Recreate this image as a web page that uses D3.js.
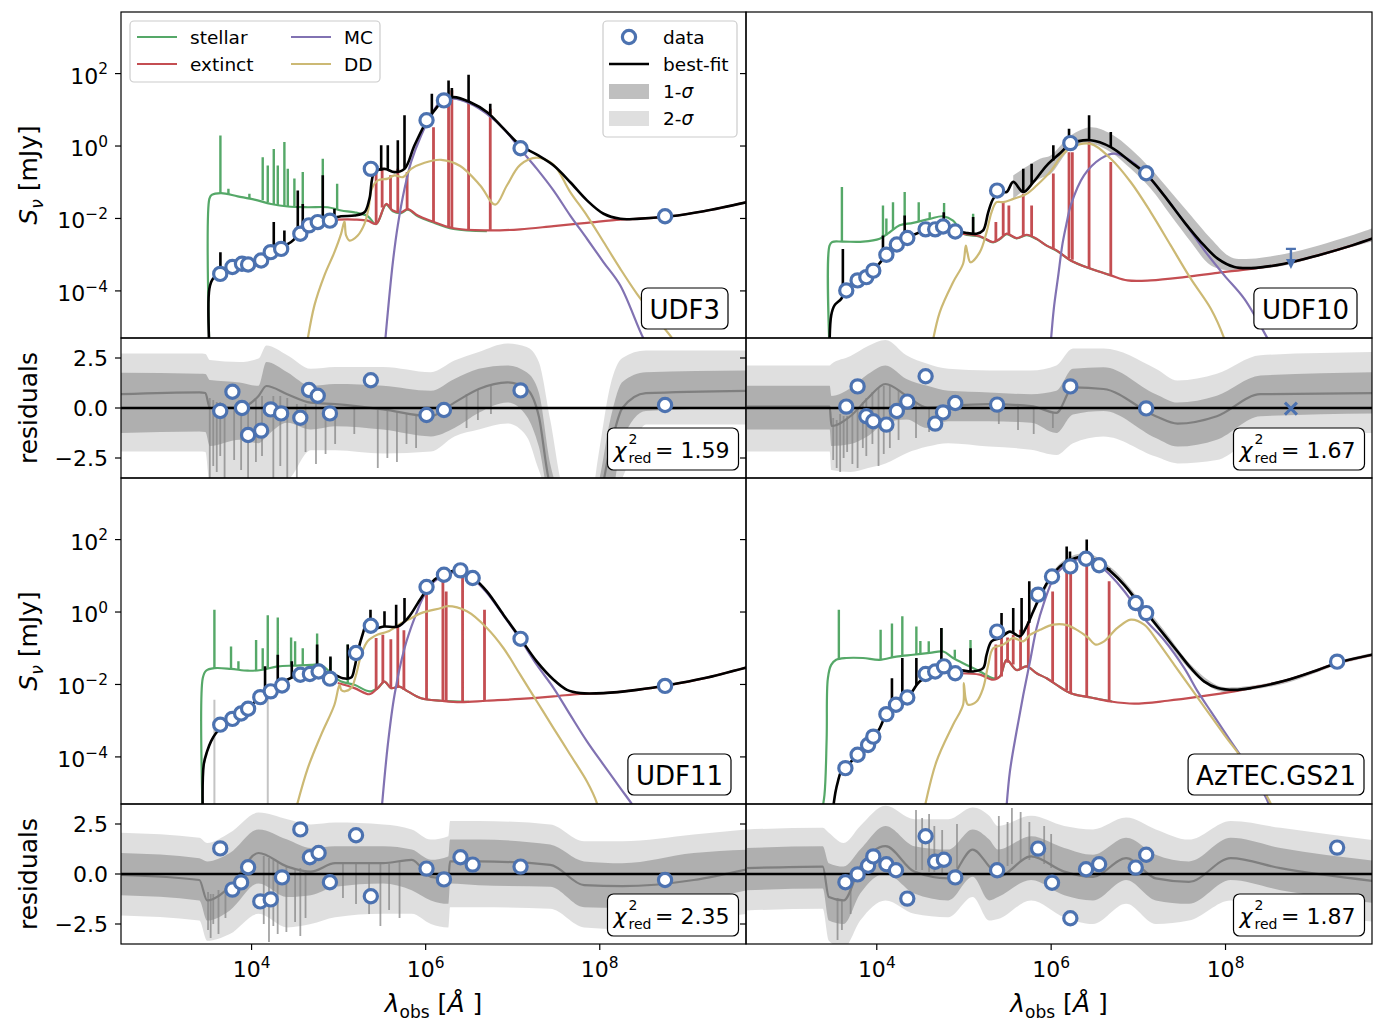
<!DOCTYPE html>
<html>
<head>
<meta charset="utf-8">
<script src="https://cdn.jsdelivr.net/npm/d3@7"></script>
<style>
  body { margin: 0; background: #fff; }
  text { font-family: "DejaVu Sans", sans-serif; fill: #000; }
</style>
</head>
<body>
<svg id="chart" width="1381" height="1021"></svg>
<script>
// ---------------------------------------------------------------
// SED fits of four sources. Wavelengths and flux densities are
// stored as log10 values: [log10 lambda/Angstrom, log10 S_nu/mJy].
// Line arrays hold [log10 lambda, log10 base, log10 peak].
// Residual bands hold [log10 lambda, -2sig, -1sig, median, +1sig, +2sig].
// ---------------------------------------------------------------

const logLamDomain = [2.5, 9.68];
const logFluxDomain = [-5.3, 3.7];
const residDomain = [-3.5, 3.5];
const fluxTicks = [-4, -2, 0, 2];
const residTicks = [-2.5, 0, 2.5];
const lamTicks = [4, 6, 8];

const componentNames = ["stellar", "extinct", "MC", "DD"];
const componentColors = ["#55a868", "#c44e52", "#8172b2", "#ccb974"];
const dataColor = "#4c72b0";

// ---------------- UDF3 ----------------
const udf3Stellar = [[3.515,-5.6],[3.515,-1.46],[3.542,-1.35],[3.649,-1.30],[3.841,-1.39],[4.033,-1.48],[4.224,-1.60],[4.416,-1.67],[4.646,-1.69],[4.875,-1.69],[5.029,-1.78],[5.182,-1.83],[5.335,-1.94],[5.431,-2.16],[5.546,-1.62],[5.623,-1.80],[5.718,-1.85],[5.795,-1.76],[5.910,-1.94],[6.063,-2.09],[6.320,-2.29],[6.703,-2.35]];
const udf3StellarLines = [[3.642,-1.30,0.29],[3.734,-1.33,-1.18],[3.975,-1.44,-1.32],[4.128,-1.50,-0.31],[4.186,-1.55,-0.54],[4.255,-1.61,-0.08],[4.301,-1.63,-0.54],[4.377,-1.66,0.11],[4.416,-1.67,-0.63],[4.492,-1.68,-0.90],[4.588,-1.69,-0.72],[4.818,-1.69,-0.35],[4.983,-1.76,-1.04]];
const udf3Extinct = [[4.990,-2.03],[5.182,-2.03],[5.335,-2.06],[5.431,-2.15],[5.546,-1.60],[5.623,-1.78],[5.718,-1.83],[5.795,-1.74],[5.910,-1.92],[6.063,-2.07],[6.320,-2.27],[6.703,-2.33],[7.086,-2.30],[7.470,-2.21],[7.853,-2.12],[8.236,-2.03],[8.427,-2.01],[8.810,-1.94],[9.194,-1.80],[9.730,-1.53]];
const udf3ExtinctLines = [[5.431,-2.15,-0.72],[5.500,-1.70,-0.60],[5.596,-1.72,-0.81],[5.680,-1.81,-0.63],[5.787,-1.74,-0.72],[6.090,-2.10,0.52],[6.263,-2.25,1.21],[6.301,-2.26,1.54],[6.493,-2.30,1.26],[6.742,-2.33,1.03]];
const udf3MC = [[5.527,-5.6],[5.565,-4.59],[5.623,-3.21],[5.680,-2.19],[5.757,-1.18],[5.833,-0.44],[5.948,0.29],[6.063,0.85],[6.167,1.21],[6.320,1.31],[6.512,1.17],[6.703,0.89],[6.895,0.48],[7.086,-0.08],[7.278,-0.63],[7.470,-1.23],[7.661,-1.92],[7.853,-2.56],[8.044,-3.21],[8.236,-3.85],[8.504,-5.32],[8.581,-5.6]];
const udf3DD = [[4.626,-5.6],[4.722,-4.40],[4.837,-3.57],[4.952,-2.93],[5.029,-2.42],[5.067,-2.08],[5.086,-2.47],[5.125,-2.61],[5.220,-2.47],[5.297,-2.15],[5.343,-1.73],[5.381,-1.18],[5.450,-0.95],[5.565,-0.90],[5.642,-0.81],[5.738,-0.86],[5.833,-0.63],[5.987,-0.46],[6.178,-0.38],[6.397,-0.55],[6.627,-1.09],[6.799,-1.62],[6.933,-1.09],[7.086,-0.52],[7.278,-0.32],[7.470,-0.52],[7.661,-1.27],[7.853,-1.92],[8.044,-2.65],[8.236,-3.39],[8.427,-4.08],[8.619,-4.68],[8.849,-5.37],[8.887,-5.6]];
const udf3Fit = [[3.515,-5.6],[3.515,-3.94],[3.554,-3.67],[3.611,-3.57],[3.726,-3.34],[3.879,-3.23],[4.033,-3.16],[4.186,-2.98],[4.339,-2.79],[4.454,-2.65],[4.569,-2.38],[4.722,-2.15],[4.875,-2.03],[5.029,-1.94],[5.182,-1.92],[5.297,-1.83],[5.354,-1.46],[5.412,-0.72],[5.527,-0.63],[5.642,-0.72],[5.757,-0.63],[5.872,0.02],[6.025,0.75],[6.090,0.95],[6.205,1.26],[6.320,1.35],[6.512,1.21],[6.703,0.94],[6.895,0.48],[7.086,0.02],[7.278,-0.24],[7.470,-0.54],[7.661,-1.00],[7.853,-1.50],[8.044,-1.87],[8.236,-2.01],[8.427,-2.01],[8.810,-1.94],[9.194,-1.80],[9.730,-1.53]];
const udf3FitLines = [[3.642,-3.55,-2.93],[4.255,-2.90,-2.10],[4.377,-2.80,-2.33],[4.531,-2.45,-1.23],[4.588,-2.35,-1.60],[4.818,-2.08,-0.81],[4.952,-1.99,-1.73],[5.489,-0.68,0.02],[5.565,-0.65,0.02],[5.680,-0.70,0.16],[5.757,-0.63,0.85],[6.071,0.85,1.44],[6.263,1.30,1.81],[6.301,1.33,1.60],[6.493,1.22,1.97],[6.742,0.88,1.17]];
const udf3Lam = [3.64,3.78,3.89,3.96,4.11,4.22,4.34,4.56,4.66,4.76,4.90,5.37,6.01,6.21,7.09,8.75];
const udf3Flux = [-3.53,-3.34,-3.25,-3.27,-3.16,-2.93,-2.84,-2.42,-2.19,-2.10,-2.06,-0.63,0.71,1.26,-0.06,-1.94];
const udf3Resid = [-0.15,0.81,0.00,-1.35,-1.13,-0.07,-0.27,-0.49,0.90,0.61,-0.27,1.39,-0.35,-0.10,0.88,0.15];
const udf3ResBand = [[2.50,-2.18,-1.25,0.69,1.76,2.72],[3.40,-2.18,-1.17,0.78,1.71,2.72],[3.47,-2.20,-1.20,0.75,1.70,2.70],[3.52,-3.80,-1.90,0.00,1.40,2.40],[3.86,-3.80,-1.59,0.02,1.28,2.30],[4.08,-3.80,-1.76,0.60,1.11,2.47],[4.17,-3.80,-1.42,1.10,2.30,3.13],[4.41,-3.60,-0.74,0.69,1.79,2.64],[4.68,-2.11,-1.08,0.27,1.11,1.96],[4.96,-2.11,-0.91,0.19,1.20,2.05],[5.51,-2.28,-1.08,-0.07,1.11,2.05],[6.06,-2.18,-1.42,-0.41,0.86,1.79],[6.33,-1.42,-1.00,0.27,1.45,2.37],[6.61,-1.08,-0.24,0.95,1.96,2.80],[6.94,-0.78,0.27,1.28,2.13,3.22],[7.16,-1.42,-0.41,0.95,1.79,3.05],[7.30,-3.10,-1.93,-0.41,0.78,2.30],[7.43,-4.50,-4.50,-3.80,-2.77,-0.57],[7.60,-4.50,-4.50,-4.50,-4.50,-4.20],[7.90,-4.50,-4.50,-4.50,-4.50,-4.50],[7.98,-4.50,-4.50,-4.50,-3.80,-2.50],[8.12,-4.50,-4.50,-2.00,-0.60,1.10],[8.26,-3.50,-1.60,0.00,1.30,2.50],[8.53,-0.83,-0.15,0.74,1.79,2.87],[9.70,-0.83,0.02,0.86,1.88,2.87]];
const udf3ResLines = [[3.52,0.5,-3.8],[3.56,0.4,-2.9],[3.60,0.3,-3.2],[3.64,0.3,-2.4],[3.69,0.2,-3.6],[3.80,0.0,-2.6],[3.88,0.0,-3.1],[3.96,0.1,-3.8],[4.05,0.4,-2.7],[4.12,0.6,-2.4],[4.25,0.6,-3.5],[4.33,0.6,-2.9],[4.41,0.5,-3.8],[4.52,0.2,-3.8],[4.62,0.2,-2.2],[4.74,0.2,-2.8],[4.85,0.1,-2.3],[4.96,0.1,-1.8],[5.18,0.0,-1.3],[5.45,-0.1,-3.0],[5.56,-0.1,-2.5],[5.67,-0.2,-2.7],[5.78,-0.3,-1.8],[5.89,-0.3,-2.0],[6.47,0.7,-1.0],[6.60,0.9,-0.6],[6.75,1.1,-0.3]];

// ---------------- UDF10 ----------------
const udf10Stellar = [[3.458,-5.6],[3.458,-2.75],[3.489,-2.65],[3.611,-2.64],[3.841,-2.64],[4.033,-2.56],[4.148,-2.38],[4.262,-2.19],[4.416,-2.12],[4.607,-2.01],[4.761,-1.94],[4.875,-2.06],[4.990,-2.42],[5.182,-2.50],[5.335,-2.66],[5.412,-2.57],[5.489,-2.43],[5.603,-2.55],[5.718,-2.46],[5.833,-2.57],[5.948,-2.75],[6.063,-2.89],[6.224,-3.16],[6.454,-3.39],[6.684,-3.57]];
const udf10StellarLines = [[3.600,-2.63,-1.13],[4.071,-2.52,-1.64],[4.110,-2.46,-2.00],[4.186,-2.30,-1.55],[4.320,-2.16,-1.27],[4.481,-2.08,-1.55],[4.607,-2.01,-1.83],[4.772,-1.94,-1.57],[5.105,-2.46,-1.87]];
const udf10Extinct = [[4.952,-2.42],[5.182,-2.49],[5.335,-2.65],[5.412,-2.56],[5.489,-2.42],[5.603,-2.54],[5.718,-2.45],[5.833,-2.56],[5.948,-2.75],[6.063,-2.88],[6.224,-3.16],[6.454,-3.39],[6.684,-3.57],[6.875,-3.71],[7.143,-3.71],[7.527,-3.62],[7.910,-3.50],[8.293,-3.39],[8.676,-3.25],[9.059,-3.02],[9.443,-2.75],[9.700,-2.54]];
const udf10ExtinctLines = [[5.366,-2.62,-2.10],[5.450,-2.46,-1.55],[5.515,-2.45,-1.64],[5.680,-2.48,-1.32],[5.776,-2.50,-1.64],[6.025,-2.85,-0.76],[6.205,-3.10,-0.17],[6.243,-3.14,-0.17],[6.435,-3.37,0.11],[6.684,-3.57,-0.44]];
const udf10MC = [[5.990,-5.6],[6.030,-4.50],[6.080,-3.60],[6.130,-2.70],[6.180,-2.10],[6.224,-1.64],[6.377,-0.81],[6.569,-0.35],[6.722,-0.21],[6.875,-0.35],[7.067,-0.72],[7.297,-1.37],[7.527,-2.10],[7.757,-2.88],[7.986,-3.57],[8.216,-4.22],[8.484,-5.32],[8.550,-5.6]];
const udf10DD = [[4.626,-5.6],[4.722,-4.59],[4.875,-3.76],[4.990,-3.25],[5.021,-2.75],[5.040,-2.95],[5.075,-3.21],[5.182,-2.93],[5.259,-2.38],[5.316,-1.83],[5.374,-1.55],[5.450,-1.55],[5.565,-1.46],[5.718,-1.32],[5.833,-1.09],[5.994,-0.70],[6.109,-0.30],[6.224,-0.05],[6.454,0.06],[6.684,-0.35],[6.914,-1.00],[7.143,-1.83],[7.373,-2.75],[7.603,-3.67],[7.833,-4.50],[7.986,-5.32],[8.020,-5.6]];
const udf10Fit = [[3.458,-5.6],[3.477,-4.68],[3.515,-4.40],[3.592,-4.22],[3.649,-3.99],[3.803,-3.71],[3.956,-3.44],[4.109,-3.02],[4.224,-2.75],[4.339,-2.56],[4.492,-2.38],[4.646,-2.29],[4.799,-2.24],[4.914,-2.33],[5.029,-2.40],[5.144,-2.42],[5.220,-2.33],[5.278,-1.83],[5.335,-1.46],[5.412,-1.27],[5.489,-1.27],[5.565,-0.99],[5.680,-1.27],[5.795,-1.00],[5.948,-0.54],[6.102,-0.20],[6.224,0.06],[6.454,0.16],[6.684,-0.03],[6.914,-0.44],[7.105,-0.81],[7.297,-1.37],[7.527,-2.10],[7.718,-2.65],[7.910,-3.11],[8.101,-3.34],[8.293,-3.37],[8.676,-3.25],[9.059,-3.02],[9.443,-2.75],[9.700,-2.54]];
const udf10FitLines = [[3.611,-4.15,-2.84],[4.071,-3.10,-2.47],[4.320,-2.60,-1.92],[4.768,-2.24,-1.83],[5.105,-2.42,-1.96],[5.680,-1.25,-0.63],[5.776,-1.05,-0.49],[6.025,-0.40,0.02],[6.205,0.04,0.48],[6.435,0.15,0.85],[6.684,-0.03,0.39]];
const udf10Band = [[5.565,-1.46,-0.81],[5.872,-0.90,-0.35],[5.994,-0.77,-0.26],[6.224,-0.08,0.29],[6.454,0.06,0.52],[6.684,-0.17,0.34],[6.914,-0.63,-0.08],[7.143,-1.18,-0.63],[7.373,-1.92,-1.27],[7.603,-2.65,-1.92],[7.833,-3.30,-2.56],[8.063,-3.44,-3.07],[8.293,-3.41,-3.11],[8.676,-3.30,-2.98],[9.059,-3.06,-2.75],[9.443,-2.79,-2.47],[9.700,-2.62,-2.26]];
const udf10Lam = [3.65,3.78,3.88,3.96,4.11,4.23,4.35,4.56,4.67,4.76,4.90,5.38,6.22,7.09];
const udf10Flux = [-3.99,-3.71,-3.62,-3.44,-3.00,-2.72,-2.54,-2.30,-2.30,-2.22,-2.36,-1.23,0.08,-0.75];
const udf10Resid = [0.07,1.08,-0.41,-0.66,-0.83,-0.15,0.32,1.59,-0.78,-0.22,0.25,0.17,1.08,-0.02];
const udf10LimitLam = [8.75];
const udf10LimitFlux = [-2.84];
const udf10LimitResid = [-0.03];
const udf10ResBand = [[2.50,-2.18,-1.08,0.07,1.11,2.13],[3.46,-2.18,-1.08,0.07,1.11,2.13],[3.48,-3.10,-1.90,-0.90,0.60,2.20],[3.70,-3.20,-1.80,-0.40,1.00,2.60],[3.90,-3.00,-1.40,0.50,1.70,3.10],[4.10,-2.77,-0.74,1.20,2.13,3.40],[4.34,-2.26,-0.57,0.61,1.45,2.64],[4.58,-1.93,-1.00,0.02,1.11,2.21],[4.82,-1.76,-0.66,0.10,0.86,1.96],[5.29,-1.93,-0.66,0.19,0.78,1.88],[5.77,-2.09,-0.74,0.10,0.69,1.88],[6.06,-2.35,-1.25,-0.24,0.86,2.13],[6.25,-1.76,-0.32,1.03,1.96,2.97],[6.60,-1.42,-0.15,0.95,2.04,2.97],[7.20,-2.43,-1.50,-0.41,0.69,1.96],[7.45,-2.77,-1.93,-0.78,0.27,1.37],[7.90,-2.60,-1.59,-0.41,0.61,1.71],[8.40,-1.42,-0.41,0.69,1.62,2.64],[9.70,-1.25,-0.27,0.74,1.79,2.80]];
const udf10ResLines = [[3.50,-0.5,-2.6],[3.54,-0.6,-3.0],[3.58,-0.3,-3.2],[3.62,-0.4,-2.5],[3.66,-0.4,-2.2],[3.72,-0.2,-2.8],[3.78,0.0,-3.0],[3.84,0.3,-2.0],[3.88,0.5,-2.4],[3.95,0.8,-1.8],[4.02,1.0,-2.9],[4.08,1.1,-2.3],[4.15,1.1,-2.0],[4.25,0.9,-1.6],[4.45,0.3,-1.5],[4.60,0.0,-1.2],[5.40,0.1,-0.8],[5.62,0.1,-1.1],[5.80,0.1,-1.3],[6.02,-0.2,-1.0]];

// ---------------- UDF11 ----------------
const udf11Stellar = [[3.439,-5.6],[3.439,-1.83],[3.477,-1.62],[3.573,-1.55],[3.764,-1.57],[3.956,-1.62],[4.109,-1.60],[4.301,-1.50],[4.492,-1.48],[4.684,-1.46],[4.799,-1.46],[4.952,-1.78],[5.029,-1.92],[5.182,-2.01],[5.354,-2.19],[5.450,-2.10],[5.527,-1.92],[5.603,-2.10],[5.699,-2.06],[5.795,-2.19],[5.948,-2.38],[6.178,-2.45],[6.500,-2.48]];
const udf11StellarLines = [[3.573,-1.55,0.06],[3.764,-1.57,-0.95],[3.849,-1.60,-1.36],[4.052,-1.61,-0.77],[4.128,-1.59,-1.00],[4.186,-1.57,-0.09],[4.301,-1.50,-0.15],[4.454,-1.48,-0.70],[4.500,-1.48,-0.81],[4.588,-1.47,-1.00],[4.753,-1.46,-0.59],[4.906,-1.70,-1.27],[5.105,-1.98,-0.90]];
const udf11BandDips = [[3.573,-2.42],[4.186,-2.01]];
const udf11Extinct = [[4.990,-1.96],[5.182,-2.10],[5.354,-2.27],[5.450,-2.10],[5.527,-1.92],[5.603,-2.10],[5.699,-2.06],[5.795,-2.19],[5.948,-2.38],[6.178,-2.45],[6.397,-2.49],[6.703,-2.45],[7.086,-2.40],[7.470,-2.33],[7.776,-2.26],[8.044,-2.24],[8.427,-2.15],[8.810,-2.01],[9.194,-1.83],[9.700,-1.52]];
const udf11ExtinctLines = [[5.431,-2.15,-0.72],[5.508,-1.95,-0.63],[5.600,-2.10,-0.75],[5.680,-2.08,-0.35],[5.750,-2.15,-0.50],[6.010,-2.42,0.66],[6.198,-2.46,0.85],[6.236,-2.47,0.57],[6.424,-2.49,1.03],[6.676,-2.45,0.06]];
const udf11MC = [[5.489,-5.6],[5.565,-3.67],[5.642,-2.29],[5.757,-1.00],[5.872,-0.17],[5.987,0.48],[6.102,0.85],[6.205,1.00],[6.397,1.12],[6.550,0.90],[6.703,0.53],[6.895,-0.10],[7.086,-0.75],[7.278,-1.46],[7.470,-2.10],[7.661,-2.84],[7.853,-3.57],[8.044,-4.22],[8.236,-4.86],[8.389,-5.37],[8.450,-5.6]];
const udf11DD = [[4.492,-5.6],[4.646,-4.31],[4.799,-3.39],[4.952,-2.56],[5.010,-2.01],[5.030,-2.15],[5.067,-2.19],[5.144,-2.10],[5.201,-1.73],[5.259,-1.18],[5.335,-0.80],[5.450,-0.62],[5.565,-0.54],[5.718,-0.31],[5.833,-0.17],[5.948,-0.03],[6.178,0.11],[6.244,0.16],[6.474,0.02],[6.703,-0.44],[6.895,-1.00],[7.086,-1.73],[7.278,-2.47],[7.470,-3.21],[7.661,-3.94],[7.853,-4.68],[7.968,-5.28],[8.000,-5.6]];
const udf11Fit = [[3.439,-5.6],[3.450,-4.22],[3.489,-3.85],[3.534,-3.57],[3.592,-3.34],[3.726,-3.02],[3.879,-2.84],[4.033,-2.49],[4.186,-2.19],[4.339,-1.96],[4.492,-1.78],[4.646,-1.69],[4.799,-1.64],[4.952,-1.73],[5.048,-1.83],[5.144,-1.81],[5.182,-1.55],[5.220,-1.10],[5.278,-0.60],[5.335,-0.25],[5.400,-0.45],[5.527,-0.40],[5.680,-0.40],[5.795,-0.17],[5.948,0.39],[6.102,0.90],[6.205,1.03],[6.397,1.17],[6.550,0.94],[6.703,0.57],[6.895,-0.08],[7.086,-0.72],[7.278,-1.37],[7.470,-1.87],[7.623,-2.15],[7.776,-2.24],[8.044,-2.24],[8.427,-2.15],[8.810,-2.01],[9.194,-1.83],[9.700,-1.52]];
const udf11FitLines = [[4.155,-2.25,-1.50],[4.301,-1.96,-1.18],[4.462,-1.80,-1.36],[4.753,-1.65,-0.90],[4.906,-1.70,-1.23],[5.105,-1.82,-0.90],[5.366,-0.40,0.06],[5.527,-0.40,0.02],[5.661,-0.40,0.20],[5.757,-0.25,0.39]];
const udf11Lam = [3.64,3.78,3.88,3.96,4.10,4.22,4.35,4.56,4.67,4.77,4.90,5.20,5.37,6.01,6.21,6.40,6.54,7.09,8.75];
const udf11Flux = [-3.11,-2.95,-2.80,-2.67,-2.35,-2.19,-2.03,-1.73,-1.71,-1.64,-1.84,-1.13,-0.38,0.69,1.03,1.15,0.94,-0.74,-2.04];
const udf11Resid = [1.28,-0.78,-0.42,0.34,-1.37,-1.27,-0.17,2.23,0.84,1.05,-0.41,1.94,-1.11,0.27,-0.27,0.84,0.47,0.37,-0.30];
const udf11ResBand = [[2.50,-2.08,-1.06,-0.05,1.05,2.06],[3.40,-2.33,-1.32,-0.30,0.79,1.81],[3.49,-3.34,-2.33,-1.32,0.63,1.55],[3.75,-3.00,-1.82,-0.64,1.05,2.06],[4.08,-1.99,-0.47,1.05,2.23,3.07],[4.41,-2.67,-1.15,0.37,1.72,2.74],[4.68,-2.50,-1.06,0.12,1.30,2.48],[4.96,-2.16,-0.64,0.54,1.39,2.57],[5.51,-1.99,-0.47,0.54,1.39,2.48],[5.84,-1.99,-0.81,0.71,1.22,2.23],[6.06,-2.50,-1.32,-0.14,0.71,1.72],[6.26,-2.67,-1.49,-0.22,0.88,1.89],[6.28,-1.66,-0.47,0.63,1.72,2.65],[6.61,-1.66,-0.56,0.63,1.72,2.65],[7.43,-1.74,-0.64,0.46,1.47,2.48],[7.82,-2.67,-1.66,-0.56,0.63,1.64],[8.26,-2.75,-1.69,-0.61,0.54,1.64],[9.08,-2.33,-1.32,-0.30,1.05,1.98],[9.70,-1.99,-0.81,0.24,1.22,2.23]];
const udf11ResLines = [[3.50,-0.9,-2.8],[3.53,-1.0,-3.2],[3.56,-1.0,-2.5],[3.62,-0.8,-3.0],[3.70,-0.7,-2.2],[4.14,0.9,-2.5],[4.20,0.8,-3.4],[4.25,0.7,-2.6],[4.30,0.6,-3.0],[4.40,0.4,-2.9],[4.50,0.3,-2.4],[4.56,0.3,-3.1],[4.62,0.2,-2.2],[5.05,0.5,-1.2],[5.20,0.5,-1.5],[5.35,0.5,-2.0],[5.48,0.5,-2.6],[5.58,0.5,-1.8],[5.70,0.6,-2.2]];

// ---------------- AzTEC.GS21 ----------------
const gs21Stellar = [[3.362,-5.6],[3.400,-5.05],[3.425,-3.50],[3.439,-1.83],[3.477,-1.46],[3.534,-1.32],[3.649,-1.27],[3.841,-1.27],[4.033,-1.32],[4.224,-1.23],[4.416,-1.18],[4.607,-1.13],[4.761,-1.09],[4.875,-1.27],[5.029,-1.46],[5.182,-1.64],[5.335,-1.83],[5.412,-1.78],[5.489,-1.32],[5.603,-1.60],[5.718,-1.50],[5.833,-1.69],[5.948,-1.83],[6.063,-2.01],[6.224,-2.24],[6.454,-2.36],[6.700,-2.47]];
const gs21StellarLines = [[3.565,-1.32,0.06],[4.044,-1.32,-0.49],[4.174,-1.25,-0.32],[4.293,-1.21,-0.12],[4.454,-1.17,-0.40],[4.500,-1.16,-0.80],[4.596,-1.13,-0.81],[4.741,-1.09,-0.44],[4.895,-1.29,-1.04],[5.075,-1.52,-0.77]];
const gs21Extinct = [[4.952,-1.69],[5.182,-1.73],[5.335,-1.87],[5.412,-1.78],[5.489,-1.32],[5.603,-1.60],[5.718,-1.50],[5.833,-1.69],[5.948,-1.83],[6.063,-2.01],[6.224,-2.24],[6.454,-2.36],[6.684,-2.47],[6.952,-2.53],[7.335,-2.45],[7.718,-2.33],[8.101,-2.19],[8.293,-2.10],[8.676,-1.90],[9.059,-1.60],[9.289,-1.40],[9.700,-1.17]];
const gs21ExtinctLines = [[5.366,-1.83,-0.90],[5.431,-1.78,-0.63],[5.500,-1.40,-0.70],[5.565,-1.45,-0.63],[5.649,-1.58,-0.49],[5.738,-1.55,-0.26],[6.017,-1.95,0.57],[6.178,-2.15,1.40],[6.224,-2.24,1.35],[6.408,-2.34,1.40],[6.665,-2.46,0.85]];
const gs21MC = [[5.481,-5.6],[5.527,-4.40],[5.603,-3.30],[5.680,-2.29],[5.757,-1.37],[5.833,-0.44],[5.910,0.20],[6.050,1.02],[6.224,1.38],[6.377,1.47],[6.530,1.33],[6.684,1.00],[6.837,0.58],[7.067,-0.18],[7.297,-0.78],[7.527,-1.55],[7.680,-2.19],[7.833,-2.75],[7.986,-3.30],[8.140,-3.85],[8.293,-4.40],[8.484,-5.23],[8.530,-5.6]];
const gs21DD = [[4.531,-5.6],[4.684,-4.13],[4.875,-3.11],[4.990,-2.56],[4.998,-1.96],[5.020,-2.40],[5.048,-2.56],[5.144,-2.47],[5.220,-2.10],[5.278,-1.46],[5.335,-1.00],[5.450,-0.90],[5.565,-0.72],[5.680,-0.81],[5.757,-0.63],[5.872,-0.49],[6.025,-0.35],[6.178,-0.36],[6.300,-0.50],[6.420,-0.70],[6.511,-0.90],[6.607,-0.81],[6.760,-0.44],[6.914,-0.21],[7.067,-0.35],[7.220,-0.81],[7.412,-1.46],[7.603,-2.10],[7.795,-2.75],[7.986,-3.39],[8.216,-4.13],[8.446,-4.96],[8.523,-5.32],[8.550,-5.6]];
const gs21Fit = [[3.489,-5.6],[3.527,-4.96],[3.554,-4.68],[3.592,-4.40],[3.688,-4.17],[3.803,-3.90],[3.918,-3.62],[4.033,-3.21],[4.109,-2.84],[4.262,-2.56],[4.377,-2.29],[4.492,-1.92],[4.646,-1.69],[4.799,-1.55],[4.952,-1.60],[5.105,-1.64],[5.220,-1.55],[5.259,-1.18],[5.316,-0.81],[5.412,-0.72],[5.527,-0.54],[5.642,-0.67],[5.718,-0.40],[5.795,0.02],[5.872,0.43],[5.987,0.94],[6.102,1.26],[6.224,1.44],[6.377,1.54],[6.530,1.40],[6.684,1.12],[6.837,0.75],[6.990,0.29],[7.143,-0.17],[7.297,-0.63],[7.450,-1.09],[7.603,-1.55],[7.757,-1.92],[7.910,-2.10],[8.101,-2.15],[8.293,-2.10],[8.676,-1.90],[9.059,-1.60],[9.289,-1.40],[9.700,-1.17]];
const gs21FitLines = [[4.174,-2.75,-1.83],[4.293,-2.45,-1.27],[4.454,-2.02,-1.27],[4.741,-1.58,-0.44],[5.075,-1.63,-1.00],[5.431,-0.70,-0.03],[5.565,-0.58,0.11],[5.661,-0.62,0.39],[5.749,-0.30,0.85],[6.178,1.38,1.81],[6.216,1.42,1.67],[6.408,1.53,2.00],[6.665,1.14,1.21]];
const gs21Band = [[5.80,-0.05,0.12],[6.10,1.18,1.34],[6.40,1.46,1.62],[6.70,1.03,1.20],[7.00,0.20,0.38],[7.30,-0.72,-0.52],[7.60,-1.62,-1.45],[7.90,-2.16,-2.02],[8.10,-2.20,-2.08],[8.70,-1.96,-1.85],[9.30,-1.45,-1.35],[9.70,-1.22,-1.12]];
const gs21Lam = [3.64,3.78,3.90,3.96,4.11,4.22,4.35,4.56,4.67,4.77,4.90,5.38,5.85,6.01,6.22,6.40,6.55,6.97,7.09,9.28];
const gs21Flux = [-4.31,-3.94,-3.67,-3.44,-2.82,-2.56,-2.36,-1.71,-1.64,-1.50,-1.69,-0.54,0.48,0.98,1.26,1.47,1.29,0.25,-0.03,-1.37];
const gs21Resid = [-0.41,-0.02,0.41,0.88,0.49,0.19,-1.23,1.89,0.61,0.71,-0.17,0.19,1.27,-0.44,-2.21,0.24,0.49,0.32,0.96,1.32];
const gs21ResBand = [[2.50,-1.82,-0.81,0.29,1.30,2.23],[3.38,-1.74,-0.73,0.37,1.39,2.31],[3.45,-3.34,-2.33,-1.15,0.54,2.06],[3.62,-3.70,-2.50,-1.32,0.37,1.55],[3.81,-2.33,-0.98,0.37,1.22,2.40],[4.10,-1.32,0.03,1.39,2.40,3.41],[4.43,-1.99,-0.98,0.12,1.39,2.74],[4.82,-2.16,-1.32,-0.22,1.22,2.74],[5.10,-1.15,-0.14,1.22,2.23,3.33],[5.29,-2.33,-1.32,0.37,1.72,2.91],[5.39,-2.25,-1.15,-0.14,1.22,2.40],[5.77,-1.32,-0.30,0.88,1.89,2.91],[6.15,-2.16,-1.06,0.12,1.30,2.40],[6.48,-2.50,-1.32,-0.14,0.96,2.23],[6.86,-1.49,-0.30,0.79,1.81,2.82],[7.20,-2.50,-1.32,-0.22,0.96,2.23],[7.58,-2.33,-1.49,-0.39,0.63,1.72],[8.06,-1.32,-0.30,0.79,1.81,2.65],[8.63,-1.82,-0.81,0.29,1.30,2.31],[9.78,-2.42,-1.49,-0.39,0.63,1.64]];
const gs21ResLines = [[3.55,-1.2,-3.3],[3.60,-1.3,-2.8],[3.70,-0.5,-2.0],[4.45,0.2,3.2],[4.52,0.2,2.8],[4.60,0.1,3.0],[4.66,0.1,2.4],[4.75,0.0,2.2],[4.92,0.3,2.5],[5.40,0.2,2.9],[5.50,0.4,2.6],[5.55,0.5,3.3],[5.65,0.6,3.1],[5.75,0.7,2.6],[5.92,0.5,2.4],[6.00,0.3,2.0]];

const sourceNames = ["UDF3", "UDF10", "UDF11", "AzTEC.GS21"];
const chiValues = ["1.59", "1.67", "2.35", "1.87"];

// ---------------- layout ----------------
const colX = [[121, 746], [746, 1372]];
const rowMain = [[12, 338], [478, 804]];
const rowRes = [[338, 478], [804, 944]];

const sources = [
  { name: sourceNames[0], chi: chiValues[0], col: 0, row: 0, labelRight: 728,
    comps: [[udf3Stellar, udf3StellarLines], [udf3Extinct, udf3ExtinctLines], [udf3MC, null], [udf3DD, null]],
    fit: udf3Fit, fitLines: udf3FitLines, band: null, dips: null,
    lam: udf3Lam, flux: udf3Flux, resid: udf3Resid, resBand: udf3ResBand, resLines: udf3ResLines },
  { name: sourceNames[1], chi: chiValues[1], col: 1, row: 0, labelRight: 1357,
    comps: [[udf10Stellar, udf10StellarLines], [udf10Extinct, udf10ExtinctLines], [udf10MC, null], [udf10DD, null]],
    fit: udf10Fit, fitLines: udf10FitLines, band: udf10Band, dips: null,
    lam: udf10Lam, flux: udf10Flux, resid: udf10Resid, resBand: udf10ResBand, resLines: udf10ResLines,
    limits: { lam: udf10LimitLam, flux: udf10LimitFlux, resid: udf10LimitResid } },
  { name: sourceNames[2], chi: chiValues[2], col: 0, row: 1, labelRight: 731,
    comps: [[udf11Stellar, udf11StellarLines], [udf11Extinct, udf11ExtinctLines], [udf11MC, null], [udf11DD, null]],
    fit: udf11Fit, fitLines: udf11FitLines, band: null, dips: udf11BandDips,
    lam: udf11Lam, flux: udf11Flux, resid: udf11Resid, resBand: udf11ResBand, resLines: udf11ResLines },
  { name: sourceNames[3], chi: chiValues[3], col: 1, row: 1, labelRight: 1364,
    comps: [[gs21Stellar, gs21StellarLines], [gs21Extinct, gs21ExtinctLines], [gs21MC, null], [gs21DD, null]],
    fit: gs21Fit, fitLines: gs21FitLines, band: gs21Band, dips: null,
    lam: gs21Lam, flux: gs21Flux, resid: gs21Resid, resBand: gs21ResBand, resLines: gs21ResLines }
];

const P = v => Math.pow(10, v);
const svg = d3.select("#chart");
const defs = svg.append("defs");
const smooth = d3.curveCatmullRom.alpha(0.5);
const markerR = 6.6, markerW = 3.2, tickLen = 6;

function supText(g, x, y, base, exp, anchor, size) {
  const t = g.append("text").attr("x", x).attr("y", y).attr("text-anchor", anchor).attr("font-size", size);
  t.append("tspan").text(base);
  t.append("tspan").attr("dy", -size * 0.42).attr("font-size", size * 0.7).text(exp);
  return t;
}

function drawSource(s, idx) {
  const [x0, x1] = colX[s.col];
  const [mt, mb] = rowMain[s.row];
  const [rt, rb] = rowRes[s.row];
  const x = d3.scaleLog().domain(logLamDomain.map(P)).range([x0, x1]);
  const y = d3.scaleLog().domain(logFluxDomain.map(P)).range([mb, mt]);
  const yr = d3.scaleLinear().domain(residDomain).range([rb, rt]);
  const px = d => x(P(d));
  const py = d => y(P(d));

  defs.append("clipPath").attr("id", "main" + idx).append("rect")
    .attr("x", x0).attr("y", mt).attr("width", x1 - x0).attr("height", mb - mt);
  defs.append("clipPath").attr("id", "res" + idx).append("rect")
    .attr("x", x0).attr("y", rt).attr("width", x1 - x0).attr("height", rb - rt);

  // ---------- main SED panel ----------
  const gm = svg.append("g").attr("clip-path", `url(#main${idx})`);
  const line = d3.line().x(d => px(d[0])).y(d => py(d[1])).curve(smooth);
  const spikePath = arr => arr.map(d => `M${px(d[0])},${py(d[1])}V${py(d[2])}`).join("");

  if (s.band) {
    gm.append("path").datum(s.band)
      .attr("d", d3.area().x(d => px(d[0])).y0(d => py(d[1])).y1(d => py(d[2])).curve(smooth))
      .attr("fill", "#808080").attr("fill-opacity", 0.5);
  }
  if (s.dips) {
    gm.append("path").attr("d", s.dips.map(d => `M${px(d[0])},${py(d[1])}V${mb}`).join(""))
      .attr("stroke", "#c4c4c4").attr("stroke-width", 2).attr("fill", "none");
  }
  s.comps.forEach((c, i) => {
    gm.append("path").datum(c[0]).attr("d", line)
      .attr("fill", "none").attr("stroke", componentColors[i]).attr("stroke-width", 2.2)
      .attr("stroke-linejoin", "round");
    if (c[1]) {
      gm.append("path").attr("d", spikePath(c[1]))
        .attr("fill", "none").attr("stroke", componentColors[i]).attr("stroke-width", i === 1 ? 2.8 : 2.4);
    }
  });
  gm.append("path").datum(s.fit).attr("d", line)
    .attr("fill", "none").attr("stroke", "#000").attr("stroke-width", 2.6).attr("stroke-linejoin", "round");
  gm.append("path").attr("d", spikePath(s.fitLines))
    .attr("fill", "none").attr("stroke", "#000").attr("stroke-width", 2.6);

  gm.selectAll("circle.pt").data(d3.range(s.lam.length)).join("circle")
    .attr("cx", i => px(s.lam[i])).attr("cy", i => py(s.flux[i])).attr("r", markerR)
    .attr("fill", "#fff").attr("stroke", dataColor).attr("stroke-width", markerW);

  if (s.limits) {
    s.limits.lam.forEach((l, i) => {
      const cx = px(l), cy = py(s.limits.flux[i]);
      gm.append("path").attr("d", `M${cx - 5},${cy}H${cx + 5}M${cx},${cy}V${cy + 12}`)
        .attr("stroke", dataColor).attr("stroke-width", 2.4).attr("fill", "none");
      gm.append("path").attr("d", `M${cx - 5},${cy + 10}L${cx + 5},${cy + 10}L${cx},${cy + 20}Z`)
        .attr("fill", dataColor);
    });
  }

  // name label
  const lbl = svg.append("g");
  const lt = lbl.append("text").attr("font-size", 26).attr("text-anchor", "end")
    .attr("x", s.labelRight - 8).attr("y", mb - 19).text(s.name);
  const tw = lt.node().getComputedTextLength();
  lbl.insert("rect", "text").attr("x", s.labelRight - tw - 16).attr("y", mb - 50)
    .attr("width", tw + 16).attr("height", 41).attr("rx", 6)
    .attr("fill", "#fff").attr("stroke", "#000").attr("stroke-width", 1.2);

  // ---------- residual panel ----------
  const gr = svg.append("g").attr("clip-path", `url(#res${idx})`);
  const bx = d => px(d[0]);
  gr.append("path").datum(s.resBand)
    .attr("d", d3.area().x(bx).y0(d => yr(d[1])).y1(d => yr(d[5])).curve(d3.curveMonotoneX))
    .attr("fill", "#808080").attr("fill-opacity", 0.25);
  gr.append("path").datum(s.resBand)
    .attr("d", d3.area().x(bx).y0(d => yr(d[2])).y1(d => yr(d[4])).curve(d3.curveMonotoneX))
    .attr("fill", "#808080").attr("fill-opacity", 0.5);
  gr.append("path").attr("d", s.resLines.map(d => `M${px(d[0])},${yr(d[1])}V${yr(d[2])}`).join(""))
    .attr("stroke", "#858585").attr("stroke-opacity", 0.75).attr("stroke-width", 1.8).attr("fill", "none");
  gr.append("path").datum(s.resBand)
    .attr("d", d3.line().x(bx).y(d => yr(d[3])).curve(d3.curveMonotoneX))
    .attr("fill", "none").attr("stroke", "#7f7f7f").attr("stroke-width", 2.2);
  gr.append("line").attr("x1", x0).attr("x2", x1).attr("y1", yr(0)).attr("y2", yr(0))
    .attr("stroke", "#000").attr("stroke-width", 2.6);
  gr.selectAll("circle.rp").data(d3.range(s.lam.length)).join("circle")
    .attr("cx", i => px(s.lam[i])).attr("cy", i => yr(s.resid[i])).attr("r", markerR)
    .attr("fill", "#fff").attr("stroke", dataColor).attr("stroke-width", markerW);
  if (s.limits) {
    s.limits.lam.forEach((l, i) => {
      const cx = px(l), cy = yr(s.limits.resid[i]);
      gr.append("path").attr("d", `M${cx - 6},${cy - 6}L${cx + 6},${cy + 6}M${cx - 6},${cy + 6}L${cx + 6},${cy - 6}`)
        .attr("stroke", dataColor).attr("stroke-width", 3);
    });
  }

  // chi-square box
  const cg = svg.append("g");
  const cw = 131, ch = 42, cbx = x1 - 7.5 - cw, cby = rb - 8 - ch;
  cg.append("rect").attr("x", cbx).attr("y", cby).attr("width", cw).attr("height", ch).attr("rx", 6)
    .attr("fill", "#fff").attr("stroke", "#000").attr("stroke-width", 1.2);
  const base = cby + 29.5;
  cg.append("text").attr("x", cbx + 6).attr("y", base).attr("font-size", 22).attr("font-style", "italic").text("χ");
  cg.append("text").attr("x", cbx + 21).attr("y", base - 14).attr("font-size", 14).text("2");
  cg.append("text").attr("x", cbx + 21).attr("y", base + 5).attr("font-size", 14).text("red");
  cg.append("text").attr("x", cbx + cw - 9).attr("y", base).attr("font-size", 22)
    .attr("text-anchor", "end").text("= " + s.chi);

  // ---------- frames and ticks ----------
  [[mt, mb], [rt, rb]].forEach(([t, b]) => {
    svg.append("rect").attr("x", x0).attr("y", t).attr("width", x1 - x0).attr("height", b - t)
      .attr("fill", "none").attr("stroke", "#000").attr("stroke-width", 1.2);
  });
  const ax = svg.append("g");
  fluxTicks.forEach(v => {
    const ty = py(v);
    ax.append("line").attr("x1", x0 - tickLen).attr("x2", x0).attr("y1", ty).attr("y2", ty).attr("stroke", "#000").attr("stroke-width", 1.2);
    if (s.col === 0) supText(ax, x0 - 13, ty + 10, "10", v < 0 ? "−" + Math.abs(v) : String(v), "end", 22);
  });
  residTicks.forEach(v => {
    const ty = yr(v);
    ax.append("line").attr("x1", x0 - tickLen).attr("x2", x0).attr("y1", ty).attr("y2", ty).attr("stroke", "#000").attr("stroke-width", 1.2);
    if (s.col === 0) ax.append("text").attr("x", x0 - 13).attr("y", ty + 8).attr("text-anchor", "end")
      .attr("font-size", 22).text(v < 0 ? "−" + Math.abs(v).toFixed(1) : v.toFixed(1));
  });
  if (s.row === 1) {
    lamTicks.forEach(v => {
      const tx = px(v);
      ax.append("line").attr("x1", tx).attr("x2", tx).attr("y1", rb).attr("y2", rb + tickLen).attr("stroke", "#000").attr("stroke-width", 1.2);
      supText(ax, tx, rb + 33, "10", String(v), "middle", 22);
    });
    const xl = ax.append("text").attr("x", (x0 + x1) / 2).attr("y", rb + 68).attr("text-anchor", "middle").attr("font-size", 25);
    xl.append("tspan").attr("font-style", "italic").text("λ");
    xl.append("tspan").attr("dy", 6).attr("font-size", 17).text("obs");
    xl.append("tspan").attr("dy", -6).text(" [");
    xl.append("tspan").attr("font-style", "italic").text("Å");
    xl.append("tspan").text(" ]");
  }
  if (s.col === 0) {
    const yl = ax.append("text").attr("transform", `translate(37,${(mt + mb) / 2}) rotate(-90)`)
      .attr("text-anchor", "middle").attr("font-size", 25);
    yl.append("tspan").attr("font-style", "italic").text("S");
    yl.append("tspan").attr("dy", 6).attr("font-size", 17).attr("font-style", "italic").text("ν");
    yl.append("tspan").attr("dy", -6).text(" [mJy]");
    ax.append("text").attr("transform", `translate(37,${(rt + rb) / 2}) rotate(-90)`)
      .attr("text-anchor", "middle").attr("font-size", 25).text("residuals");
  }
}

sources.forEach(drawSource);

// ---------- legends (first panel) ----------
const leg1 = svg.append("g");
leg1.append("rect").attr("x", 130).attr("y", 21).attr("width", 250).attr("height", 61).attr("rx", 4)
  .attr("fill", "#fff").attr("fill-opacity", 0.8).attr("stroke", "#cccccc").attr("stroke-width", 1.2);
componentNames.forEach((n, i) => {
  const lx = i < 2 ? 137 : 291, ly = i % 2 === 0 ? 37 : 64;
  leg1.append("line").attr("x1", lx).attr("x2", lx + 40).attr("y1", ly).attr("y2", ly)
    .attr("stroke", componentColors[i]).attr("stroke-width", 2.2);
  leg1.append("text").attr("x", i < 2 ? 190 : 344).attr("y", ly + 6.5).attr("font-size", 18.5).text(n);
});

const leg2 = svg.append("g");
leg2.append("rect").attr("x", 603).attr("y", 21).attr("width", 134).attr("height", 116).attr("rx", 4)
  .attr("fill", "#fff").attr("fill-opacity", 0.8).attr("stroke", "#cccccc").attr("stroke-width", 1.2);
leg2.append("circle").attr("cx", 629).attr("cy", 37).attr("r", markerR)
  .attr("fill", "#fff").attr("stroke", dataColor).attr("stroke-width", markerW);
leg2.append("line").attr("x1", 609).attr("x2", 649).attr("y1", 64).attr("y2", 64).attr("stroke", "#000").attr("stroke-width", 2.6);
leg2.append("rect").attr("x", 609).attr("y", 84).attr("width", 40).attr("height", 15).attr("fill", "#808080").attr("fill-opacity", 0.5);
leg2.append("rect").attr("x", 609).attr("y", 111).attr("width", 40).attr("height", 15).attr("fill", "#808080").attr("fill-opacity", 0.25);
leg2.append("text").attr("x", 663).attr("y", 43.5).attr("font-size", 18.5).text("data");
leg2.append("text").attr("x", 663).attr("y", 70.5).attr("font-size", 18.5).text("best-fit");
[["1-", 97.5], ["2-", 124.5]].forEach(([t, yy]) => {
  const tt = leg2.append("text").attr("x", 663).attr("y", yy).attr("font-size", 18.5);
  tt.append("tspan").text(t);
  tt.append("tspan").attr("font-style", "italic").text("σ");
});
</script>
</body>
</html>
